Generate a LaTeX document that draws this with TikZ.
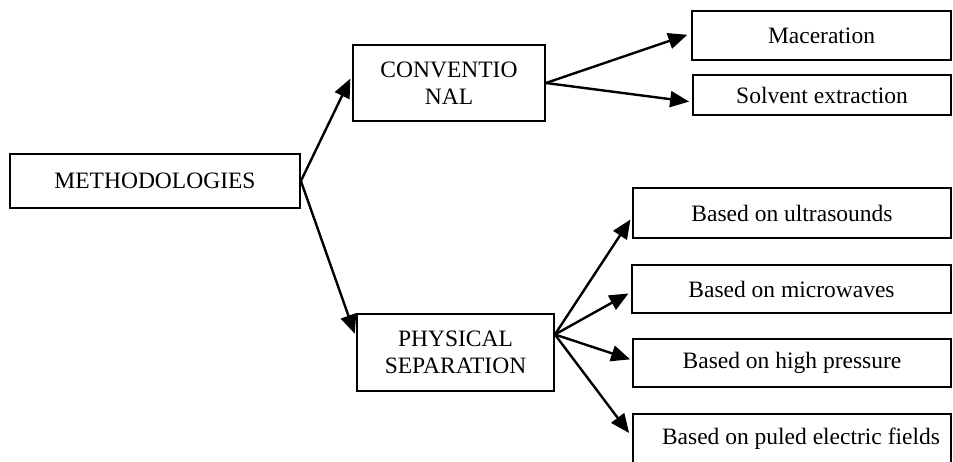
\documentclass[tikz,border=0pt]{standalone}
\usepackage{fontspec}
\setmainfont{Liberation Serif}
\usetikzlibrary{arrows.meta}
\begin{document}
\begin{tikzpicture}[x=1pt,y=-1pt,
  box/.style={draw=black,line width=1.8pt,inner sep=0pt,align=center,
    font=\fontsize{23.5}{27}\selectfont},
  arr/.style={line width=2.4pt,-{Triangle[length=19pt,width=16pt]}}]
\clip (0,0) rectangle (953,461);
\fill[white] (0,0) rectangle (953,461);
% boxes (pixel coordinates: x right, y down)
\node[box,minimum width=290pt,minimum height=54pt] (meth) at (155,181) {METHODOLOGIES};
\node[box,minimum width=192pt,minimum height=76pt] (conv) at (449,83) {CONVENTIO\\NAL};
\node[box,minimum width=197pt,minimum height=77pt] (phys) at (455.5,352.5) {PHYSICAL\\SEPARATION};
\node[box,minimum width=259pt,minimum height=49pt] (mac) at (821.5,35.5) {Maceration};
\node[box,minimum width=258pt,minimum height=40pt] (solv) at (822,95) {Solvent extraction};
\node[box,minimum width=318pt,minimum height=50pt] (ultra) at (792,213) {Based on ultrasounds};
\node[box,minimum width=319pt,minimum height=48pt] (micro) at (791.5,289) {Based on microwaves};
\node[box,minimum width=318pt,minimum height=48pt] (press) at (792,363) {Based on high pressure};
\node[box,minimum width=318pt,minimum height=50pt] (pulse) at (792,439) {\hspace*{18pt}Based on puled electric fields};
% connectors
\draw[arr,shorten >=4pt] (meth.east) -- ([yshift=8pt]conv.west);
\draw[arr,shorten >=4pt] (meth.east) -- ([yshift=15pt]phys.west);
\draw[arr,shorten >=4pt] (conv.east) -- ([yshift=2pt]mac.west);
\draw[arr,shorten >=3pt] (conv.east) -- ([yshift=-7pt]solv.west);
\draw[arr,shorten >=3pt] ([yshift=18pt]phys.east) -- ([yshift=-4pt]ultra.west);
\draw[arr,shorten >=3pt] ([yshift=18pt]phys.east) -- ([yshift=-3pt]micro.west);
\draw[arr,shorten >=2pt] ([yshift=18pt]phys.east) -- ([yshift=3pt]press.west);
\draw[arr,shorten >=5pt] ([yshift=18pt]phys.east) -- ([yshift=2pt]pulse.west);
\end{tikzpicture}
\end{document}
